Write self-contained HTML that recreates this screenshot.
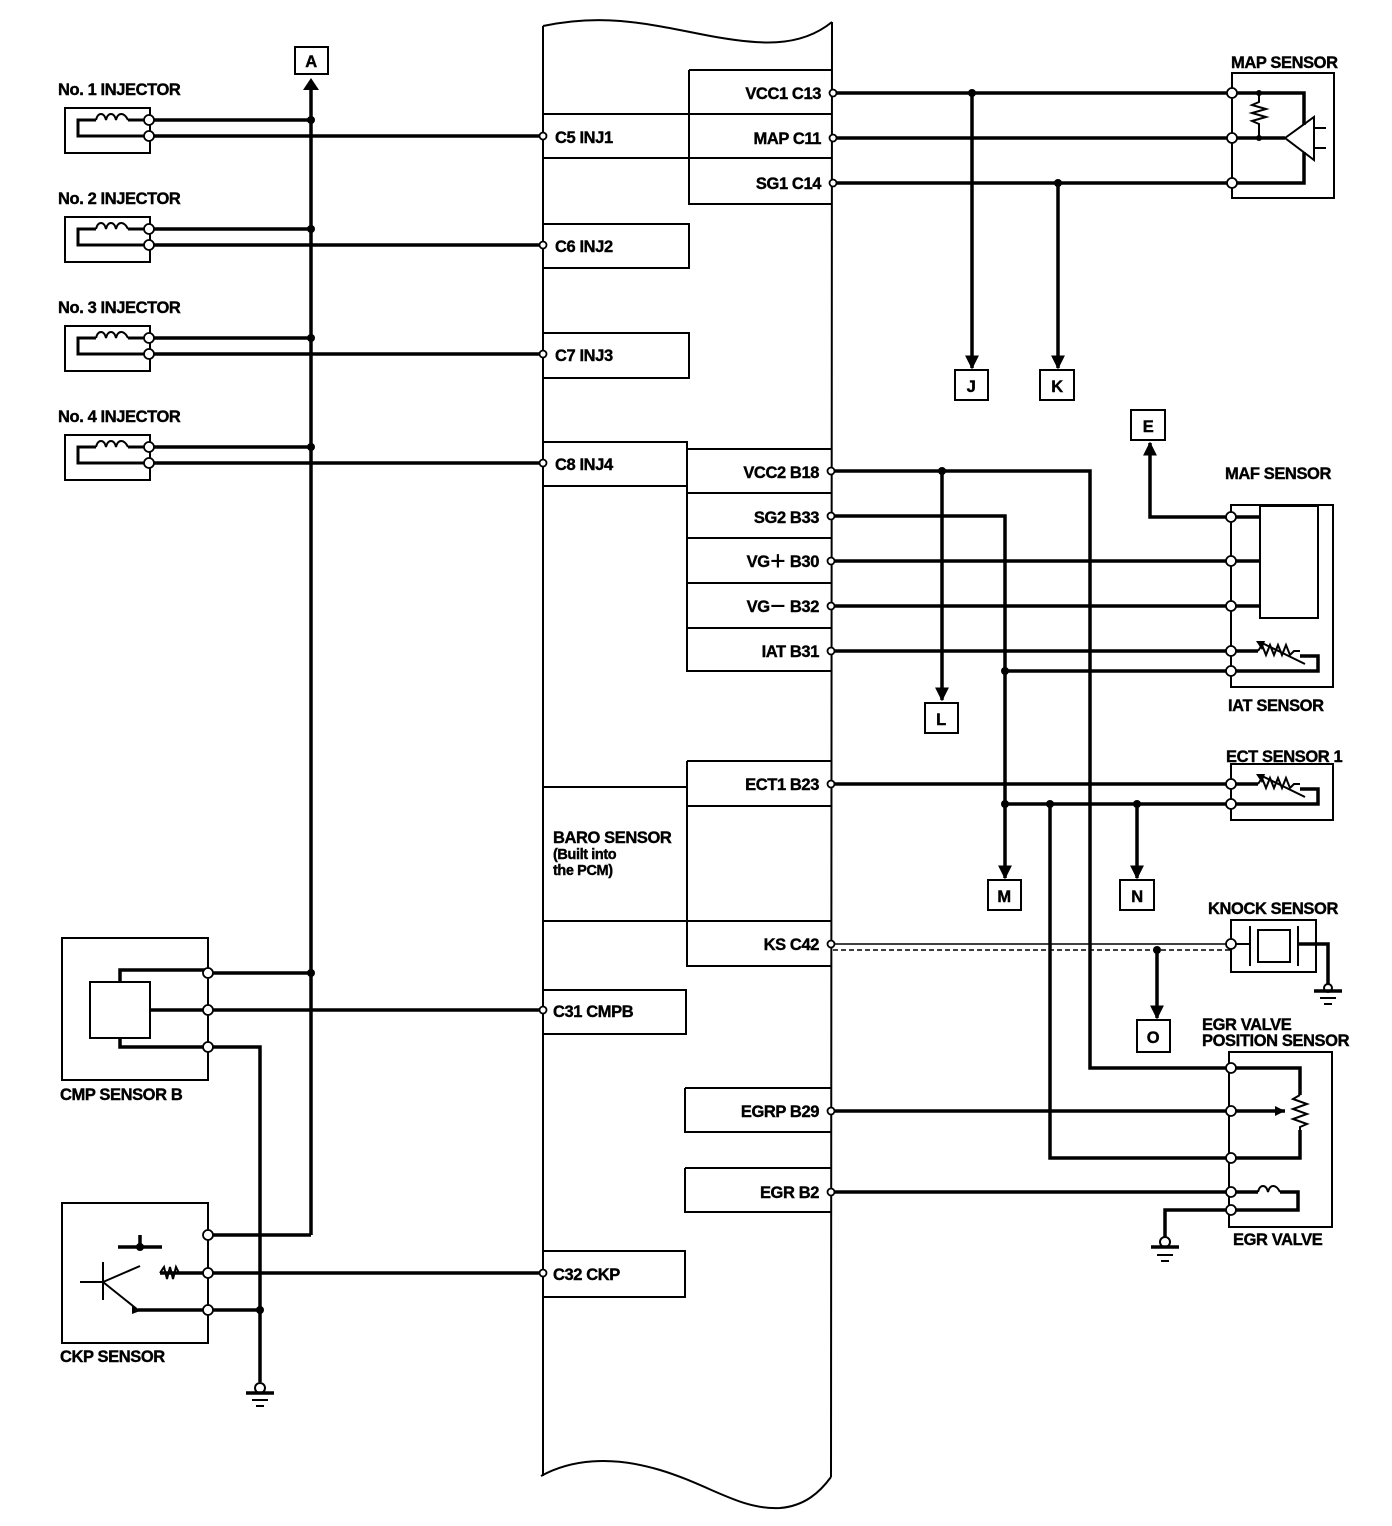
<!DOCTYPE html>
<html><head><meta charset="utf-8"><style>
html,body{margin:0;padding:0;background:#fff;}
svg{display:block;}
text{font-family:"Liberation Sans",sans-serif;font-weight:bold;font-size:16.5px;fill:#000;stroke:#000;stroke-width:0.4px;letter-spacing:-0.4px;}
</style></head><body>
<svg width="1392" height="1526" viewBox="0 0 1392 1526" xmlns="http://www.w3.org/2000/svg">
<defs>
<marker id="ar" viewBox="0 0 10 10" refX="9" refY="5" markerWidth="4" markerHeight="4" orient="auto"><path d="M0,0 L10,5 L0,10 z" fill="#000"/></marker>
</defs>
<g fill="none" stroke="#000" stroke-width="2">
<path d="M543,26 C600,14 640,22 700,34 C760,46 800,48 832,22"/>
<path d="M543,26 L543,1476 M832,22 L831,1477"/>
<path d="M541,1476 C570,1460 610,1455 660,1470 C710,1485 740,1510 780,1508 C805,1506 820,1492 831,1477"/>
<path d="M689,70 H832 M689,70 V204 H832 M543,114 H832 M543,158 H832"/>
<path d="M543,224 H689 V268 H543"/>
<path d="M543,333 H689 V378 H543"/>
<path d="M543,442 H687 V486 H543"/>
<path d="M687,449 H832 M687,449 V671 H832 M687,493 H832 M687,538 H832 M687,583 H832 M687,628 H832"/>
<path d="M687,761 H832 M687,761 V966 H832 M687,806 H832 M543,787 H687 M543,921 H832"/>
<path d="M543,990 H686 V1034 H543"/>
<path d="M685,1088 H832 M685,1088 V1132 H832"/>
<path d="M685,1168 H832 M685,1168 V1212 H832"/>
<path d="M543,1251 H685 V1297 H543"/>
</g>
<text x="555" y="143">C5 INJ1</text>
<text x="555" y="252">C6 INJ2</text>
<text x="555" y="361">C7 INJ3</text>
<text x="555" y="470">C8 INJ4</text>
<text x="553" y="843">BARO SENSOR</text>
<text x="553" y="859" style="font-size:14.5px">(Built into</text>
<text x="553" y="875" style="font-size:14.5px">the PCM)</text>
<text x="553" y="1017">C31 CMPB</text>
<text x="553" y="1280">C32 CKP</text>
<g text-anchor="end">
<text x="821" y="99">VCC1 C13</text>
<text x="821" y="144">MAP C11</text>
<text x="821" y="189">SG1 C14</text>
<text x="819" y="478">VCC2 B18</text>
<text x="819" y="523">SG2 B33</text>
<text x="819" y="567">VG＋ B30</text>
<text x="819" y="612">VG－ B32</text>
<text x="819" y="657">IAT B31</text>
<text x="819" y="790">ECT1 B23</text>
<text x="819" y="950">KS C42</text>
<text x="819" y="1117">EGRP B29</text>
<text x="819" y="1198">EGR B2</text>
</g>
<g fill="none" stroke="#000" stroke-width="2">
<rect x="65" y="108" width="85" height="45"/>
<rect x="65" y="217" width="85" height="45"/>
<rect x="65" y="326" width="85" height="45"/>
<rect x="65" y="435" width="85" height="45"/>
</g>
<g fill="none" stroke="#000" stroke-width="3">
<path d="M149,120 H128 M96,120 H78 V136 H149"/>
<path d="M149,229 H128 M96,229 H78 V245 H149"/>
<path d="M149,338 H128 M96,338 H78 V354 H149"/>
<path d="M149,447 H128 M96,447 H78 V463 H149"/>
</g>
<text x="58" y="95">No. 1 INJECTOR</text>
<text x="58" y="204">No. 2 INJECTOR</text>
<text x="58" y="313">No. 3 INJECTOR</text>
<text x="58" y="422">No. 4 INJECTOR</text>
<g fill="none" stroke="#000" stroke-width="2">
<path d="M96,120 c2,-8 8,-8 10,0 c2,-8 8,-8 10,0 c2,-8 8,-8 12,0"/>
<path d="M96,229 c2,-8 8,-8 10,0 c2,-8 8,-8 10,0 c2,-8 8,-8 12,0"/>
<path d="M96,338 c2,-8 8,-8 10,0 c2,-8 8,-8 10,0 c2,-8 8,-8 12,0"/>
<path d="M96,447 c2,-8 8,-8 10,0 c2,-8 8,-8 10,0 c2,-8 8,-8 12,0"/>
</g>
<g fill="none" stroke="#000" stroke-width="3.5">
<path d="M311,1235 V88"/>
<path d="M149,120 H311 M149,229 H311 M149,338 H311 M149,447 H311"/>
<path d="M149,136 H543 M149,245 H543 M149,354 H543 M149,463 H543"/>
<path d="M208,973 H311 M120,982 V970 H208 M150,1010 H543 M120,1038 V1047 H208 M208,1047 H260 V1382"/>
<path d="M208,1235 H311 M208,1273 H543 M208,1310 H260 M140,1235 V1247 M118,1247 H162 M160,1273 H208 M138,1310 H208"/>
<path d="M833,93 H1232 M833,138 H1232 M833,183 H1232"/>
<path d="M972,93 V368" marker-end="url(#ar)"/>
<path d="M1058,183 V368" marker-end="url(#ar)"/>
<path d="M1232,93 H1304 V125 M1232,138 H1285 M1232,183 H1304 V152"/>
<path d="M833,471 H1090 V1068 H1231"/>
<path d="M942,471 V700" marker-end="url(#ar)"/>
<path d="M833,516 H1005 V878" marker-end="url(#ar)"/>
<path d="M833,561 H1260 M833,606 H1260 M833,651 H1258 M1005,671 H1318 V656 H1300"/>
<path d="M1231,517 H1150 V443" marker-end="url(#ar)"/>
<path d="M1231,517 H1260"/>
<path d="M833,784 H1258 M1005,804 H1318 V789 H1300"/>
<path d="M1137,804 V878" marker-end="url(#ar)"/>
<path d="M1050,804 V1158 H1231"/>
<path d="M1157,950 V1018" marker-end="url(#ar)"/>
<path d="M1298,944 H1328 V985"/>
<path d="M833,1111 H1285 M833,1192 H1258 M1231,1068 H1300 V1095 M1231,1158 H1300 V1130 M1280,1192 H1298 V1210 H1231 M1231,1210 H1165 V1238"/>
</g>
<path d="M833,944 H1231" stroke="#000" stroke-width="1.5" fill="none"/>
<path d="M833,950 H1231" stroke="#000" stroke-width="1.5" stroke-dasharray="5,3" fill="none"/>
<g fill="none" stroke="#000" stroke-width="2">
<rect x="295" y="47" width="33" height="27"/>
<rect x="955" y="370" width="33" height="30"/>
<rect x="1040" y="370" width="34" height="30"/>
<rect x="1131" y="410" width="34" height="30"/>
<rect x="925" y="703" width="33" height="30"/>
<rect x="988" y="880" width="33" height="30"/>
<rect x="1120" y="880" width="34" height="30"/>
<rect x="1137" y="1020" width="33" height="32"/>
<rect x="1232" y="73" width="102" height="125"/>
<path d="M1231,505 H1333 V687 H1231 Z"/>
<rect x="1260" y="506" width="58" height="112"/>
<rect x="1231" y="764" width="102" height="56"/>
<rect x="1231" y="920" width="85" height="52"/>
<rect x="1258" y="930" width="32" height="32"/>
<path d="M1250,926 V966 M1298,926 V966 M1231,944 H1250"/>
<path d="M1229,1052 H1332 V1227 H1229 Z"/>
<rect x="62" y="938" width="146" height="142"/>
<rect x="90" y="982" width="60" height="56"/>
<rect x="62" y="1203" width="146" height="140"/>
<path d="M103,1262 V1300 M103,1282 L138,1310 M103,1282 L140,1266 M80,1282 H103"/>
<path d="M1259,93 V102 L1252,105 L1266,109 L1252,113 L1266,117 L1252,121 L1259,124 V138"/>
<path d="M1285,138 L1314,117 V160 Z M1314,128 H1326 M1314,148 H1326"/>
<path d="M1258,651 l4,-6 l4,10 l4,-10 l4,10 l4,-10 l4,10 l4,-10 l4,10 l4,-4 h6"/>
<path d="M1262,643 L1305,664"/>
<path d="M1258,784 l4,-6 l4,10 l4,-10 l4,10 l4,-10 l4,10 l4,-10 l4,10 l4,-4 h6"/>
<path d="M1262,776 L1305,797"/>
<path d="M1300,1095 l-7,4 l14,5 l-14,5 l14,5 l-14,5 l14,5 l-7,3 V1130"/>
<path d="M1258,1192 c2,-8 8,-8 10,0 c2,-8 8,-8 12,0"/>
<path d="M160,1273 l4,-6 l3,12 l3,-12 l3,12 l3,-12 l3,6"/>
</g>
<path d="M1285,1111 l-10,-5 v10 z M1256,641 l9,0 l-3,9 z M1256,774 l9,0 l-3,9 z M132,1306 l8,5 l-8,3z" fill="#000"/>
<g fill="none" stroke="#000" stroke-width="2">
<circle cx="260" cy="1388" r="5"/><path d="M246,1393 H274" stroke-width="3.5"/><path d="M252,1400 H268 M256,1406 H264"/>
<circle cx="1165" cy="1242" r="5"/><path d="M1151,1247 H1179" stroke-width="3.5"/><path d="M1157,1255 H1173 M1161,1261 H1169"/>
<circle cx="1328" cy="988" r="4"/><path d="M1314,991 H1342" stroke-width="3.5"/><path d="M1320,998 H1336 M1324,1004 H1332"/>
</g>
<g fill="#000">
<circle cx="311" cy="120" r="4"/><circle cx="311" cy="229" r="4"/><circle cx="311" cy="338" r="4"/><circle cx="311" cy="447" r="4"/><circle cx="311" cy="973" r="4"/>
<circle cx="260" cy="1310" r="4"/><circle cx="140" cy="1247" r="4"/>
<circle cx="972" cy="93" r="4"/><circle cx="1058" cy="183" r="4"/><circle cx="1259" cy="93" r="3"/><circle cx="1259" cy="138" r="3"/>
<circle cx="942" cy="471" r="4"/><circle cx="1005" cy="671" r="4"/><circle cx="1005" cy="804" r="4"/><circle cx="1050" cy="804" r="4"/><circle cx="1137" cy="804" r="4"/><circle cx="1157" cy="950" r="4"/>
<path d="M303,90 L311,78 L319,90 Z"/>
</g>
<g fill="#fff" stroke="#000" stroke-width="1.8">
<circle cx="149" cy="120" r="5"/><circle cx="149" cy="136" r="5"/><circle cx="149" cy="229" r="5"/><circle cx="149" cy="245" r="5"/>
<circle cx="149" cy="338" r="5"/><circle cx="149" cy="354" r="5"/><circle cx="149" cy="447" r="5"/><circle cx="149" cy="463" r="5"/>
<circle cx="208" cy="973" r="5"/><circle cx="208" cy="1010" r="5"/><circle cx="208" cy="1047" r="5"/>
<circle cx="208" cy="1235" r="5"/><circle cx="208" cy="1273" r="5"/><circle cx="208" cy="1310" r="5"/>
<circle cx="1232" cy="93" r="5"/><circle cx="1232" cy="138" r="5"/><circle cx="1232" cy="183" r="5"/>
<circle cx="1231" cy="517" r="5"/><circle cx="1231" cy="561" r="5"/><circle cx="1231" cy="606" r="5"/><circle cx="1231" cy="651" r="5"/><circle cx="1231" cy="671" r="5"/>
<circle cx="1231" cy="784" r="5"/><circle cx="1231" cy="804" r="5"/><circle cx="1231" cy="944" r="5"/>
<circle cx="1231" cy="1068" r="5"/><circle cx="1231" cy="1111" r="5"/><circle cx="1231" cy="1158" r="5"/><circle cx="1231" cy="1192" r="5"/><circle cx="1231" cy="1210" r="5"/>
<circle cx="543" cy="136" r="3.5"/><circle cx="543" cy="245" r="3.5"/><circle cx="543" cy="354" r="3.5"/><circle cx="543" cy="463" r="3.5"/><circle cx="543" cy="1010" r="3.5"/><circle cx="543" cy="1273" r="3.5"/>
<circle cx="833" cy="93" r="3.5"/><circle cx="833" cy="138" r="3.5"/><circle cx="833" cy="183" r="3.5"/>
<circle cx="831" cy="471" r="3.5"/><circle cx="831" cy="516" r="3.5"/><circle cx="831" cy="561" r="3.5"/><circle cx="831" cy="606" r="3.5"/><circle cx="831" cy="651" r="3.5"/>
<circle cx="831" cy="784" r="3.5"/><circle cx="831" cy="944" r="3.5"/><circle cx="831" cy="1111" r="3.5"/><circle cx="831" cy="1192" r="3.5"/>
</g>
<g text-anchor="middle">
<text x="311" y="67">A</text>
<text x="971" y="392">J</text>
<text x="1057" y="392">K</text>
<text x="1148" y="432">E</text>
<text x="941" y="725">L</text>
<text x="1004" y="902">M</text>
<text x="1137" y="902">N</text>
<text x="1153" y="1043">O</text>
</g>
<text x="1231" y="68">MAP SENSOR</text>
<text x="1225" y="479">MAF SENSOR</text>
<text x="1228" y="711">IAT SENSOR</text>
<text x="1226" y="762">ECT SENSOR 1</text>
<text x="1208" y="914">KNOCK SENSOR</text>
<text x="1202" y="1030">EGR VALVE</text>
<text x="1202" y="1046">POSITION SENSOR</text>
<text x="1233" y="1245">EGR VALVE</text>
<text x="60" y="1100">CMP SENSOR B</text>
<text x="60" y="1362">CKP SENSOR</text>
</svg>
</body></html>
